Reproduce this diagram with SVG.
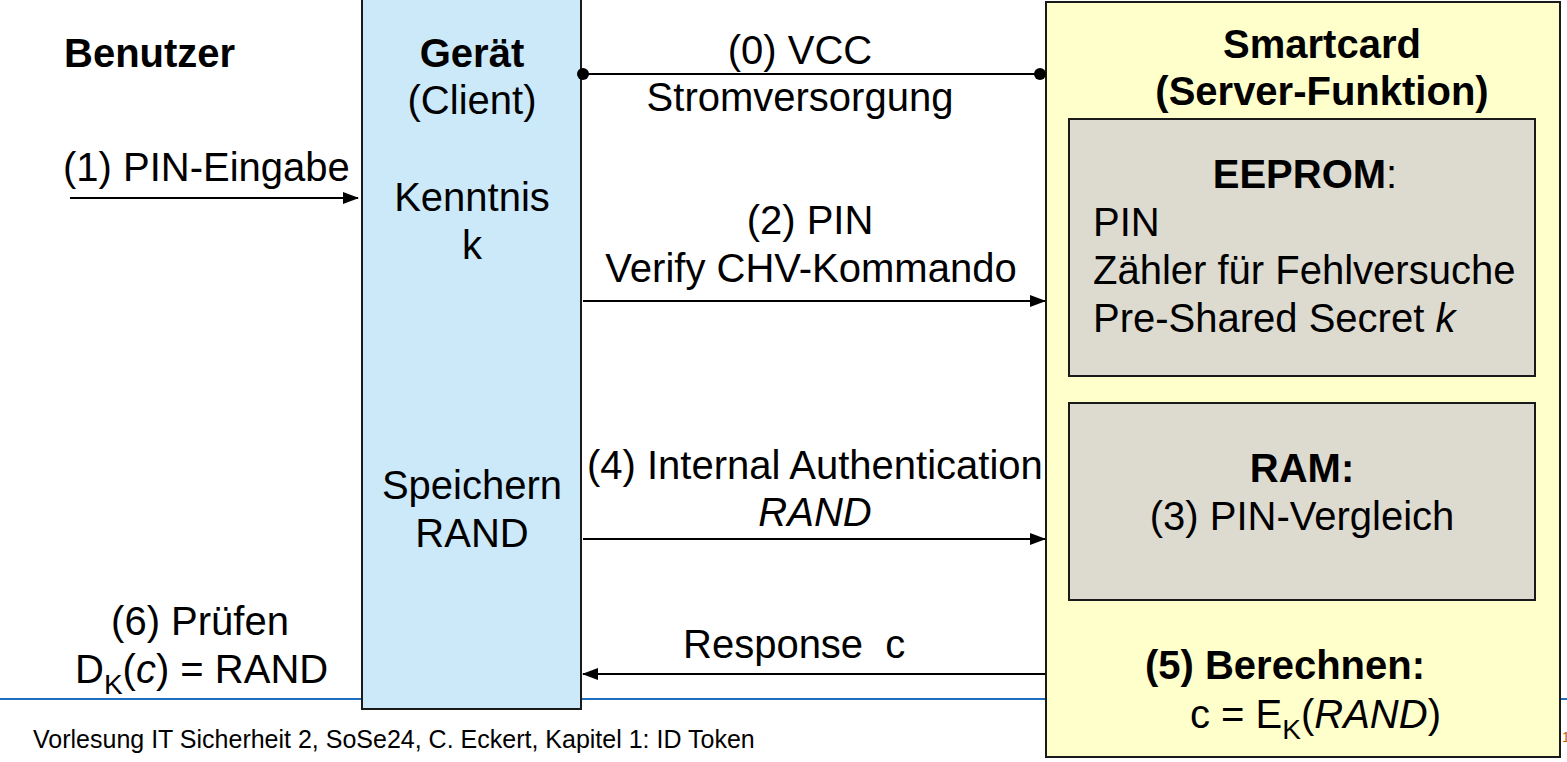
<svg xmlns="http://www.w3.org/2000/svg" width="1567" height="762" viewBox="0 0 1567 762">
<style>
text{font-family:"Liberation Sans",Arial,sans-serif;font-size:40px;fill:#000}
.b{font-weight:bold}
.c{text-anchor:middle}
.i{font-style:italic}
.sub{font-size:28px}
.box{stroke:#1a1a1a;stroke-width:2}
.ln{stroke:#000;stroke-width:2;fill:none}
</style>
<defs>
<marker id="ah" markerWidth="16" markerHeight="12" refX="15" refY="6" orient="auto" markerUnits="userSpaceOnUse"><path d="M0,0 L16,6 L0,12 Z" fill="#000"/></marker>
<marker id="dot" markerWidth="12" markerHeight="12" refX="6" refY="6" markerUnits="userSpaceOnUse"><circle cx="6" cy="6" r="6" fill="#000"/></marker>
</defs>
<rect width="1567" height="762" fill="#fff"/>
<g id="footer">
<line x1="0" y1="699" x2="1567" y2="699" stroke="#1f6fc0" stroke-width="2"/>
<text x="33" y="748" style="font-size:25px">Vorlesung IT Sicherheit 2, SoSe24, C. Eckert, Kapitel 1: ID Token</text>
<text x="1562" y="742" style="font-size:14px;fill:#c06000">1</text>
</g>
<g id="benutzer">
<text x="64" y="67" class="b">Benutzer</text>
<text x="63" y="181">(1) PIN-Eingabe</text>
<text x="200" y="635" class="c">(6) Prüfen</text>
<text x="75" y="683">D<tspan dy="11" class="sub">K</tspan><tspan dy="-11">(</tspan><tspan class="i">c</tspan>) = RAND</text>
</g>
<g id="geraet">
<rect x="362" y="-2" width="219" height="711" fill="#cce9fa" class="box"/>
<text x="472" y="67" class="b c">Gerät</text>
<text x="472" y="114" class="c">(Client)</text>
<text x="472" y="211" class="c">Kenntnis</text>
<text x="472" y="259" class="c">k</text>
<text x="472" y="499" class="c">Speichern</text>
<text x="472" y="547" class="c">RAND</text>
</g>
<g id="smartcard">
<rect x="1046" y="2" width="514" height="755" fill="#ffffcc" class="box"/>
<text x="1322" y="58" class="b c">Smartcard</text>
<text x="1322" y="105" class="b c">(Server-Funktion)</text>
</g>
<g id="eeprom">
<rect x="1069" y="119" width="466" height="257" fill="#dddad0" class="box"/>
<text x="1305" y="188" class="c"><tspan class="b">EEPROM</tspan>:</text>
<text x="1093" y="236">PIN</text>
<text x="1093" y="284">Zähler für Fehlversuche</text>
<text x="1093" y="332">Pre-Shared Secret <tspan class="i">k</tspan></text>
</g>
<g id="ram">
<rect x="1069" y="403" width="466" height="197" fill="#dddad0" class="box"/>
<text x="1302" y="482" class="b c">RAM:</text>
<text x="1302" y="530" class="c">(3) PIN-Vergleich</text>
</g>
<g id="berechnen">
<text x="1285" y="679" class="b c">(5) Berechnen:</text>
<text x="1190" y="728">c = E<tspan dy="11" class="sub">K</tspan><tspan dy="-11">(</tspan><tspan class="i">RAND</tspan>)</text>
</g>
<g id="connectors">
<line x1="70" y1="198" x2="358" y2="198" class="ln" marker-end="url(#ah)"/>
<line x1="583" y1="74" x2="1040" y2="74" class="ln" marker-start="url(#dot)" marker-end="url(#dot)"/>
<line x1="583" y1="301" x2="1045" y2="301" class="ln" marker-end="url(#ah)"/>
<line x1="583" y1="539" x2="1045" y2="539" class="ln" marker-end="url(#ah)"/>
<line x1="1045" y1="674" x2="583" y2="674" class="ln" marker-end="url(#ah)"/>
<text x="800" y="64" class="c">(0) VCC</text>
<text x="800" y="111" class="c">Stromversorgung</text>
<text x="810" y="234" class="c">(2) PIN</text>
<text x="811" y="282" class="c">Verify CHV-Kommando</text>
<text x="587" y="479">(4) Internal Authentication</text>
<text x="815" y="526" class="c i">RAND</text>
<text x="683" y="658" style="white-space:pre">Response  c</text>
</g>
</svg>
